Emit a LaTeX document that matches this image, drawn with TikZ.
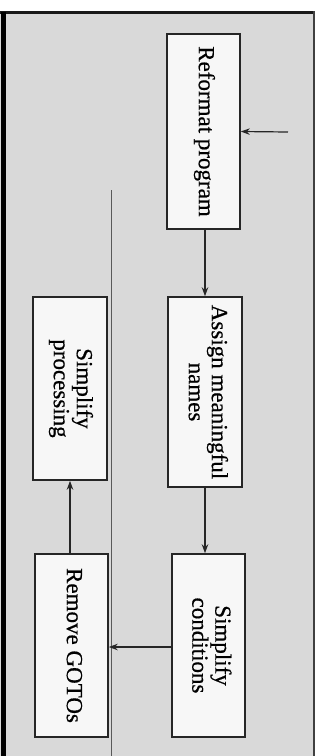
\documentclass[tikz,border=0pt]{standalone}
\usepackage{fontspec}
\setmainfont{Liberation Serif}
\newfontfamily\steplabel{Liberation Serif}[FakeBold=0.6]
\usetikzlibrary{arrows.meta}
% box labels read top to bottom
\newcommand{\sidetext}[1]{\rotatebox{-90}{\begin{tabular}{@{}c@{}}#1\end{tabular}}}
\begin{document}
\begin{tikzpicture}[x=1pt,y=-1pt,
  stepbox/.style={draw=black!85, line width=1.6pt, fill=black!3, inner sep=0pt,
    font=\steplabel\fontsize{23}{23}\selectfont},
  flow/.style={draw=black!85, line width=1.2pt, -{Stealth[length=9pt,width=6.5pt]}},
  rule/.style={draw=black!65, line width=0.7pt}]
\useasboundingbox (0,0) rectangle (326,756);
% page and panel
\fill[white] (0,0) rectangle (326,756);
\fill[black!15] (0,12) rectangle (314,756);
\draw[black!90, line width=3pt] (0,12) -- (313,12);
\draw[black!75, line width=1.2pt] (314,11) -- (314,756);
\draw[black, line width=5pt] (3,12) -- (3,756);
\draw[rule] (111,190) -- (111,756);

% steps
\node[stepbox, minimum width=73pt, minimum height=195pt] (ref)  at (203.5,131.5) {\sidetext{Reformat program}};
\node[stepbox, minimum width=74pt, minimum height=190pt] (asg)  at (205,392)   {\sidetext{Assign meaningful\\names}};
\node[stepbox, minimum width=73pt, minimum height=183pt] (cond) at (208.5,645.5) {\sidetext{Simplify\\conditions}};
\node[stepbox, minimum width=73pt, minimum height=183pt] (gto)  at (71.5,645.5) {\sidetext{Remove GOTOs}};
\node[stepbox, minimum width=74pt, minimum height=183pt] (proc) at (70,388.5)  {\sidetext{Simplify\\processing}};

% connectors
\coordinate (in) at (288,132);
\draw[flow] (in) -- (ref.east);
\draw[flow] ([xshift=1.5pt]ref.south) -- ([xshift=1.5pt]ref.south |- asg.north);
\draw[flow] (asg.south) -- (asg.south |- cond.north);
\draw[flow] (cond.west |- 0,647) -- (gto.east |- 0,647);
\draw[flow] ([xshift=-1.5pt]gto.north) -- ([xshift=-1.5pt]gto.north |- proc.south);
\end{tikzpicture}
\end{document}
